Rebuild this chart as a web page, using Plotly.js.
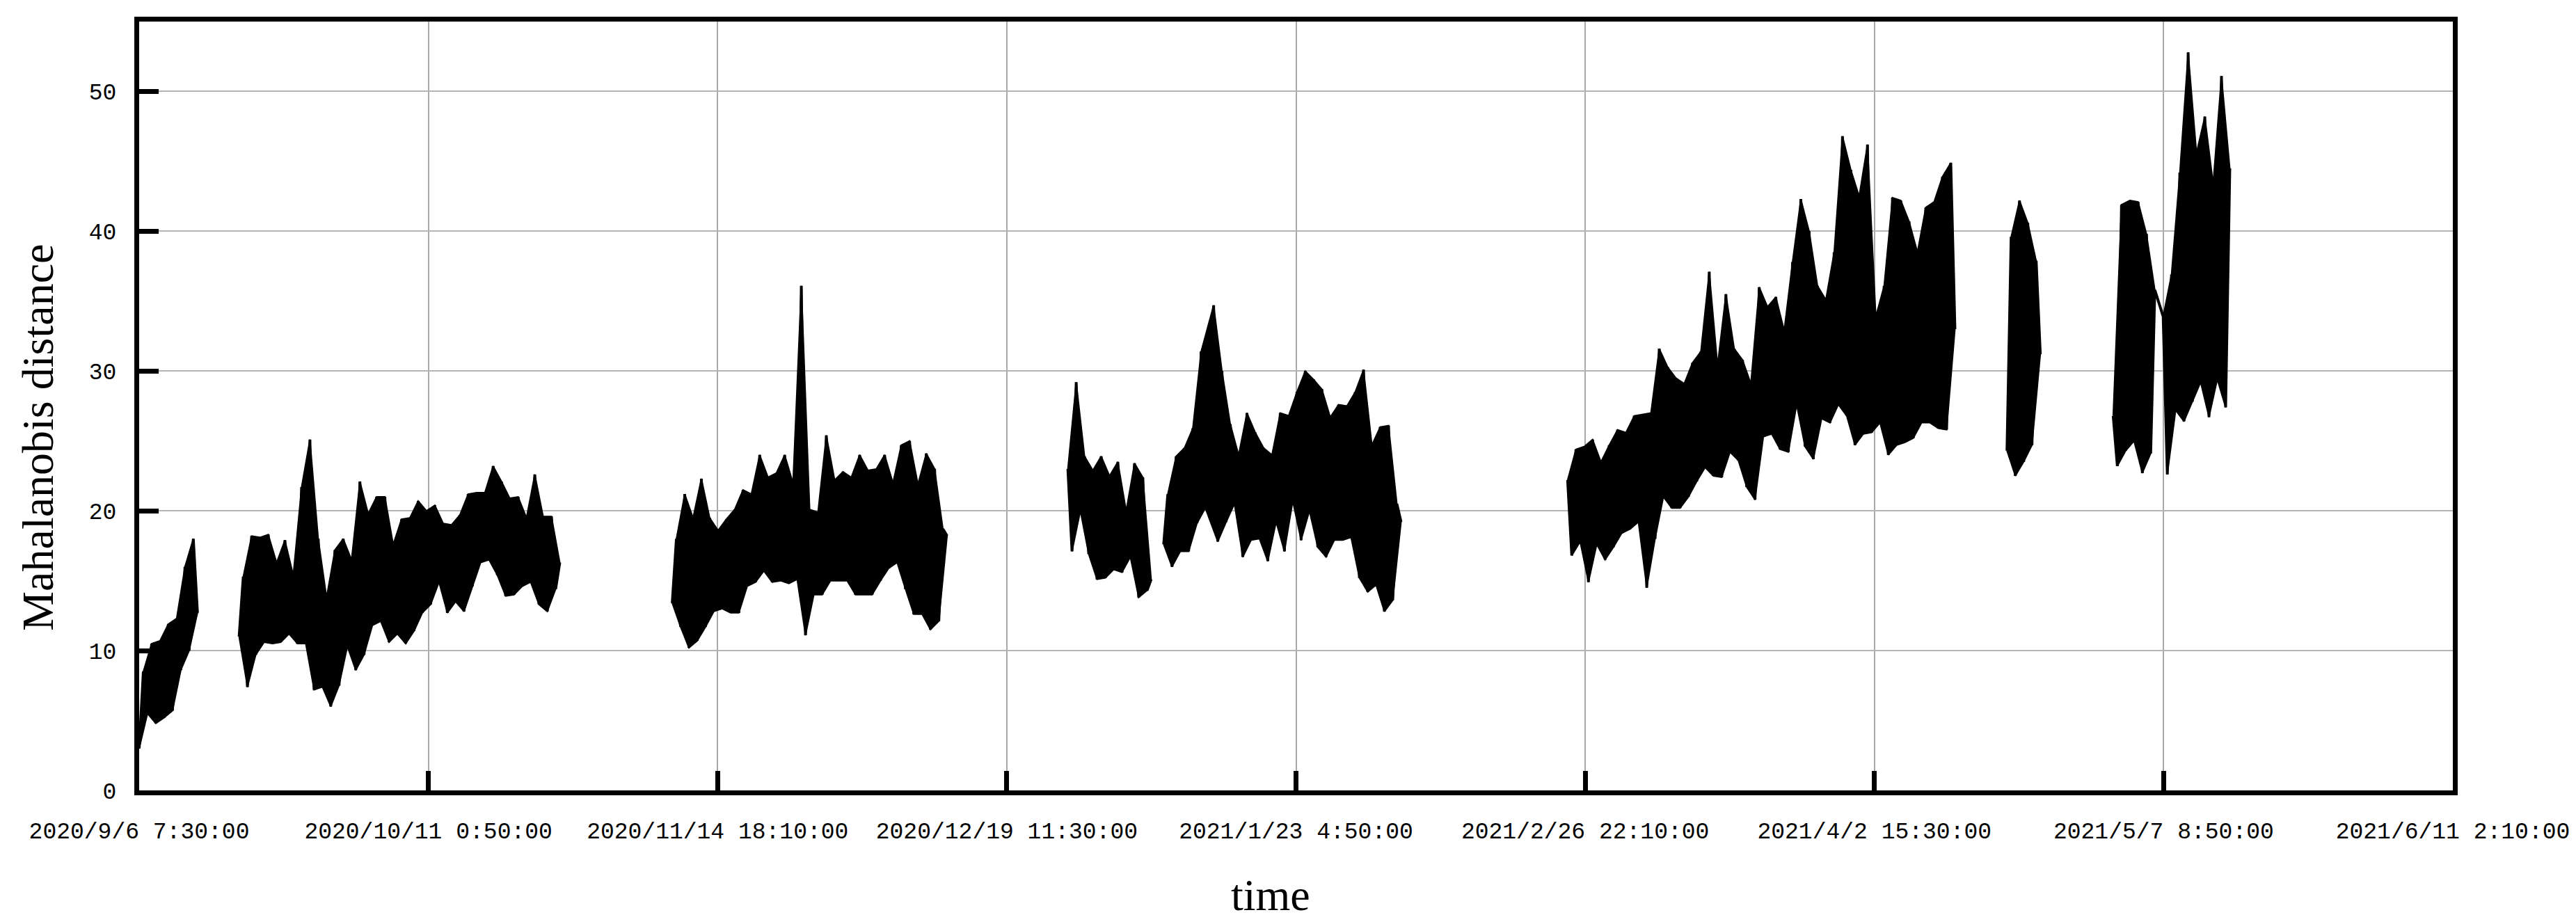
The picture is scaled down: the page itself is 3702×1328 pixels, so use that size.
<!DOCTYPE html>
<html>
<head>
<meta charset="utf-8">
<script src="https://cdn.plot.ly/plotly-3.0.1.min.js"></script>
<style>html,body{margin:0;padding:0;background:#fff}</style>
</head>
<body>
<div id="plot" style="width:3702px;height:1328px"></div>
<script>
// time axis labels, as printed under the chart
let tickLabels = ["2020/9/6 7:30:00", "2020/10/11 0:50:00", "2020/11/14 18:10:00",
    "2020/12/19 11:30:00", "2021/1/23 4:50:00", "2021/2/26 22:10:00",
    "2021/4/2 15:30:00", "2021/5/7 8:50:00", "2021/6/11 2:10:00"];

// Mahalanobis distance, read every 12 hours, one array per recorded stretch
let seg1 = [3, 8.5, 5.5, 10.5, 4.8, 10.7, 5.2, 11.9, 5.7, 12.3, 8.6, 16, 10, 18, 12.7];
let seg2 = [11, 15.3, 7.4, 18.2, 9.7, 18.1, 10.6, 18.3, 10.5, 16.3, 10.6, 17.9, 11.2, 15.4, 10.5, 21.7,
    10.5, 25.1, 7.2, 18, 7.4, 13.8, 6, 17.2, 7.5, 18, 10.3, 16.5, 8.6, 22.1, 9.7, 19.8, 11.8, 21, 12.1, 21,
    10.6, 17.6, 11.2, 19.4, 10.5, 19.5, 11.4, 20.7, 12.7, 20, 13.3, 20.4, 14.9, 19.1, 12.7, 19, 13.5, 19.7,
    12.8, 21.2, 14.6, 21.3, 16.3, 21.3, 16.5, 23.2, 15.4, 22.1, 13.9, 20.9, 14, 21, 14.6, 19.5, 14.9, 22.6,
    13.3, 19.6, 12.8, 19.6, 14.4, 16.3];
let seg3 = [13.4, 18, 11.7, 21.2, 10.2, 19.5, 10.7, 22.3, 11.7, 19.5, 12.8, 18.6, 13, 19.4, 12.7, 20.1,
    12.7, 21.5, 14.6, 21.2, 14.9, 24, 15.7, 22.4, 14.9, 22.7, 15, 24, 14.8, 22, 15.1, 36.1, 11.1, 20.1,
    14, 19.9, 14, 25.4, 15, 22.2, 15, 22.8, 15, 22.4, 14, 24, 14, 22.9, 14, 23, 15, 24, 15.9, 22, 16.3,
    24.7, 14.4, 25, 12.6, 21.9, 12.6, 24.1, 11.5, 23, 12.1, 18.7, 18.2];
let seg4a = [23, 17.1, 29.2, 20, 23.9, 16.9, 22.9, 15.1, 23.9, 15.2, 22.5, 15.8, 23.5, 15.6, 20, 16.7,
    23.4, 13.8, 22.4, 14.3, 15.1];
let seg4b = [17.6, 21.2, 16, 23.9, 17.1, 24.5, 17.1, 25.9, 19.1, 31.4, 20.2, 30, 34.7, 17.8, 30, 19.2,
    26.2, 20.5, 24, 16.7, 27, 17.9, 25.6, 18, 24.5, 16.4, 24, 19.2, 27, 17.1, 26.8, 20.7, 28.5, 17.9, 30,
    20, 29.4, 17.4, 28.7, 16.7, 26.7, 17.9, 27.6, 17.9, 27.5, 18.1, 28.5, 15.2, 30.1, 14.2, 24.7, 14.7,
    26, 12.8, 26.1, 13.6, 20.5, 19.2];
let seg5 = [22.2, 16.8, 24.4, 17.8, 24.6, 14.9, 25.1, 17.6, 23.5, 16.5, 24.7, 17.4, 25.8, 18.4, 25.6,
    18.7, 26.8, 19.2, 26.9, 14.5, 27, 18, 31.6, 21, 30.3, 20.2, 29.5, 20.2, 29.1, 21, 30.6, 22.1, 31.4,
    23.1, 37.1, 22.5, 30.4, 22.4, 35.5, 24.2, 31.6, 23.6, 30.8, 21.7, 29.1, 20.8, 36, 25.3, 34.6, 25.5,
    35.3, 24.4, 32.9, 24.2, 37.8, 27.6, 42.3, 24.6, 40, 23.7, 36.1, 26.6, 35.1, 26.3, 38.5, 27.6, 46.8,
    26.8, 44.4, 24.7, 42.5, 25.5, 46.2, 25.6, 33.9, 26.3, 36.1, 24, 42.4, 24.7, 42.2, 24.9, 40.7, 25.2,
    38.5, 26.3, 41.7, 26.3, 42.1, 25.9, 43.9, 25.8, 44.9, 33];
let seg6 = [24.3, 39.6, 22.5, 42.2, 23.5, 40.6, 24.7, 37.9, 31.2];
let seg7a = [26.8, 23.2, 41.9, 24.3, 42.2, 25, 42.1, 22.7, 39.8, 24.1, 35.8];
let seg7b = [33.9, 22.6, 36.9, 27.2, 44.2, 26.4, 52.8, 27.8, 45.6, 29.2, 48.2, 26.7, 43.4, 29.4, 51.1,
    27.4, 44.5];

// first reading of each stretch, in days after the first tick
let segStartDay = [0, 12, 64, 111.5, 123, 171.5, 224.25, 237, 243];
let segList = [seg1, seg2, seg3, seg4a, seg4b, seg5, seg6, seg7a, seg7b];
// the logger drew a straight line across the short gap before seg7b
let segJoined = [false, false, false, false, false, false, false, false, true];

function parseStamp(s) {
    let parts = s.split(" ");
    let d = parts[0].split("/").map(Number);
    let t = parts[1].split(":").map(Number);
    return Date.UTC(d[0], d[1] - 1, d[2], t[0], t[1], t[2]);
}

let tickVals = tickLabels.map(parseStamp);
let t0 = tickVals[0];
const DAY = 86400000;
const STEP = 0.5;

// the signal line, broken between recorded stretches
let xs = [];
let ys = [];
// the dense part of the signal: a band through its own peaks and troughs
let bx = [];
let by = [];
for (let s = 0; s < segList.length; s++) {
    let vals = segList[s];
    let times = vals.map((v, i) => t0 + (segStartDay[s] + i * STEP) * DAY);
    if (s > 0 && !segJoined[s]) {
        xs.push(null);
        ys.push(null);
    }
    for (let i = 0; i < vals.length; i++) {
        xs.push(times[i]);
        ys.push(vals[i]);
    }
    let upX = [], upY = [], loX = [], loY = [];
    for (let i = 0; i < vals.length; i++) {
        let prev = i > 0 ? vals[i - 1] : vals[i];
        let next = i < vals.length - 1 ? vals[i + 1] : vals[i];
        if (vals[i] >= prev && vals[i] >= next) { upX.push(times[i]); upY.push(vals[i]); }
        if (vals[i] <= prev && vals[i] <= next) { loX.push(times[i]); loY.push(vals[i]); }
    }
    if (s > 0) {
        bx.push(null);
        by.push(null);
    }
    bx = bx.concat(upX, loX.reverse());
    by = by.concat(upY, loY.reverse());
}

let band = {
    x: bx,
    y: by,
    type: "scatter",
    mode: "lines",
    fill: "toself",
    fillcolor: "#000000",
    line: {color: "#000000", width: 2},
    hoverinfo: "skip"
};

let trace1 = {
    x: xs,
    y: ys,
    type: "scatter",
    mode: "lines",
    line: {color: "#000000", width: 4, simplify: false},
    hoverinfo: "skip"
};

let tickFont = {family: "Liberation Mono, DejaVu Sans Mono, monospace", size: 33, color: "#000000"};
let titleFont = {family: "Liberation Serif, Times New Roman, serif", size: 64, color: "#000000"};

let layout = {
    width: 3702,
    height: 1328,
    margin: {l: 200, r: 177, t: 31, b: 192},
    paper_bgcolor: "#ffffff",
    plot_bgcolor: "#ffffff",
    showlegend: false,
    xaxis: {
        type: "date",
        range: [tickVals[0], tickVals[tickVals.length - 1]],
        tickvals: tickVals,
        ticktext: tickLabels,
        tickangle: 0,
        ticks: "inside",
        ticklen: 28,
        tickwidth: 7,
        tickcolor: "#000000",
        ticklabelstandoff: 22,
        tickfont: tickFont,
        showgrid: true,
        gridcolor: "#a8a8a8",
        gridwidth: 2,
        showline: true,
        linecolor: "#000000",
        linewidth: 7,
        mirror: true,
        zeroline: false
    },
    yaxis: {
        range: [0, 55],
        tick0: 0,
        dtick: 10,
        ticks: "inside",
        ticklen: 28,
        tickwidth: 7,
        tickcolor: "#000000",
        ticklabelstandoff: 19,
        tickfont: tickFont,
        showgrid: true,
        gridcolor: "#b4b4b4",
        gridwidth: 2,
        showline: true,
        linecolor: "#000000",
        linewidth: 7,
        mirror: true,
        zeroline: false
    },
    annotations: [
        {
            text: "Mahalanobis distance",
            xref: "paper", yref: "paper",
            x: -0.0436, y: 0.459,
            xanchor: "center", yanchor: "middle",
            textangle: -90,
            showarrow: false,
            font: titleFont
        },
        {
            text: "time",
            xref: "paper", yref: "paper",
            x: 0.489, y: -0.136,
            xanchor: "center", yanchor: "middle",
            showarrow: false,
            font: titleFont
        }
    ]
};

Plotly.newPlot("plot", [band, trace1], layout, {staticPlot: true, displayModeBar: false});
</script>
</body>
</html>
